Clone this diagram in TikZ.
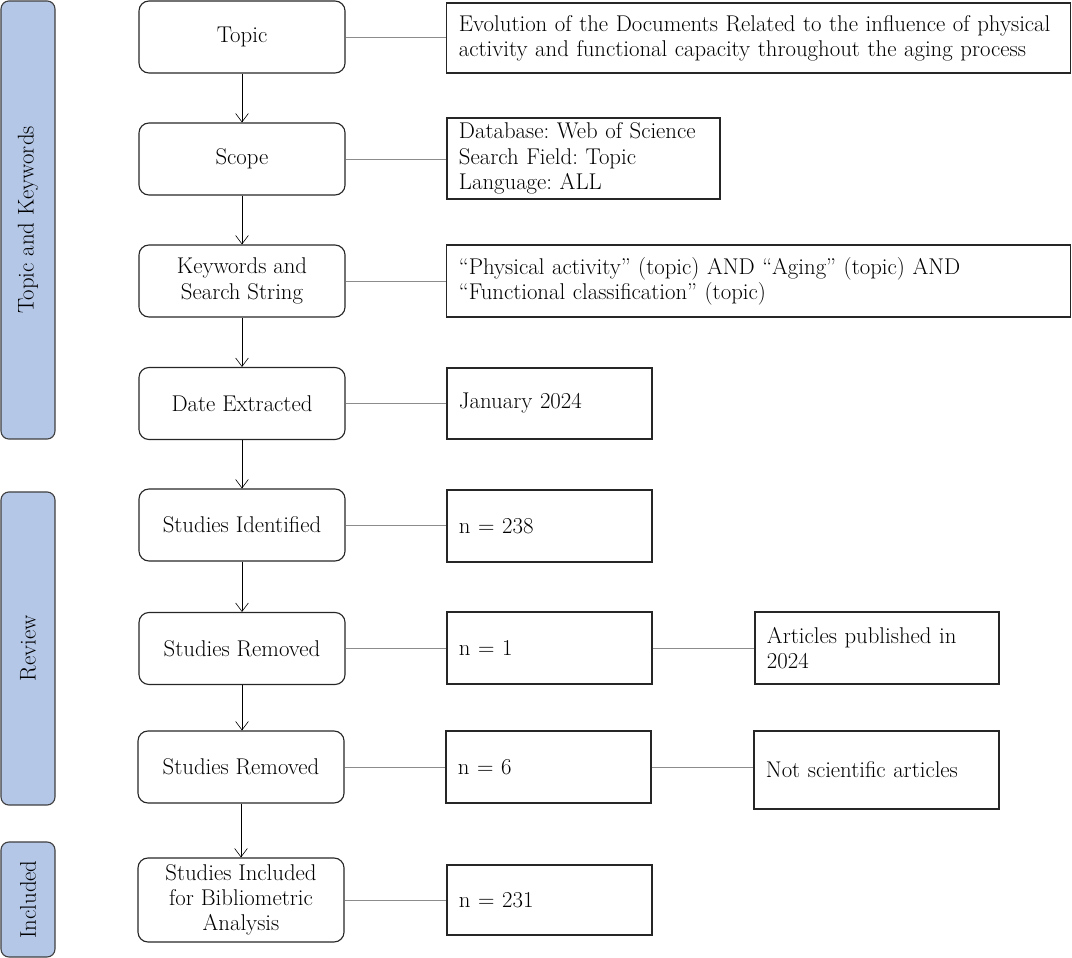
\documentclass[tikz,border=0pt]{standalone}
\usepackage{amsmath}
\usepackage{xcolor}
\usepackage{tikz}
\usetikzlibrary{positioning,arrows.meta}

\definecolor{barblue}{HTML}{B4C7E7}
\frenchspacing

\begin{document}
\begin{tikzpicture}[x=0.025cm,y=-0.025cm,
    every node/.style={font=\fontsize{16.2}{18}\selectfont},
    stage/.style={draw=black!85,line width=0.8pt,rounded corners=0.25cm,
      minimum width=5.15cm,minimum height=1.8cm,align=center},
    info/.style={draw=black!85,line width=0.8pt,inner xsep=0.3cm,
      align=left,minimum height=1.8cm},
    phase/.style={draw=black!75,line width=0.8pt,fill=barblue,
      rounded corners=0.2cm,minimum height=1.35cm,rotate=90},
    link/.style={draw=black!45,line width=0.6pt},
    >={Straight Barb[length=6pt,width=9pt]}]
    \useasboundingbox (0,0) rectangle (1072,958);
    % phases
    \node[phase,minimum width=10.95cm] (P1) at (28,220) {Topic and Keywords};
    \node[phase,minimum width=7.825cm] (P2) at (28,648.5) {Review};
    \node[phase,minimum width=2.875cm] (P3) at (28,899.5) {Included};
    % main column
    \node[stage] (T) at (242,37) {Topic};
    \node[stage] (S) at (242,159) {Scope};
    \node[stage] (K) at (242,281) {Keywords and\\Search String};
    \node[stage] (D) at (242,403.5) {Date Extracted};
    \node[stage] (I) at (242,525) {Studies Identified};
    \node[stage] (R1) at (242,648.5) {Studies Removed};
    \node[stage] (R2) at (241,767) {Studies Removed};
    \node[stage,minimum height=2.1cm] (SI) at (241,900) {Studies Included\\for Bibliometric\\Analysis};
    % details
    \node[info,text width=14.975cm,minimum height=1.75cm] (TI) at (758.5,38)
      {Evolution of the Documents Related to the influence of physical\\
       activity and functional capacity throughout the aging process};
    \node[info,text width=6.225cm,minimum height=2.025cm] (SI1) at (583.5,158.5)
      {Database: Web of Science\\Search Field: Topic\\Language: ALL};
    \node[info,text width=14.975cm] (KI) at (758.5,281)
      {``Physical activity'' (topic) AND ``Aging'' (topic) AND\\
       ``Functional classification'' (topic)};
    \node[info,text width=4.525cm,minimum height=1.775cm] (DI) at (549.5,403.5) {January 2024};
    \node[info,text width=4.525cm] (II) at (549.5,526) {n = 238};
    \node[info,text width=4.525cm] (R1I) at (549.5,648) {n = 1};
    \node[info,text width=5.5cm] (R1X) at (877,648) {Articles published in\\2024};
    \node[info,text width=4.525cm] (R2I) at (548.5,767) {n = 6};
    \node[info,text width=5.525cm,minimum height=1.95cm] (R2X) at (876.5,770) {Not scientific articles};
    \node[info,text width=4.525cm,minimum height=1.75cm] (SII) at (549.5,900) {n = 231};
    % flow
    \draw[->] (T) -- (S);
    \draw[->] (S) -- (K);
    \draw[->] (K) -- (D);
    \draw[->] (D.south) -- (I.north -| D.south);
    \draw[->] (I) -- (R1);
    \draw[->] (R1.south) -- (R2.north -| R1.south);
    \draw[->] (R2) -- (SI);
    % links
    \draw[link] (T.east) -- (T.east -| TI.west);
    \draw[link] (S.east) -- (S.east -| SI1.west);
    \draw[link] (K.east) -- (K.east -| KI.west);
    \draw[link] (D.east) -- (D.east -| DI.west);
    \draw[link] (I.east) -- (I.east -| II.west);
    \draw[link] (R1.east) -- (R1.east -| R1I.west);
    \draw[link] (R2.east) -- (R2.east -| R2I.west);
    \draw[link] (SI.east) -- (SI.east -| SII.west);
    \draw[link] (R1I) -- (R1X);
    \draw[link] (R2I.east) -- (R2I.east -| R2X.west);
\end{tikzpicture}
\end{document}
